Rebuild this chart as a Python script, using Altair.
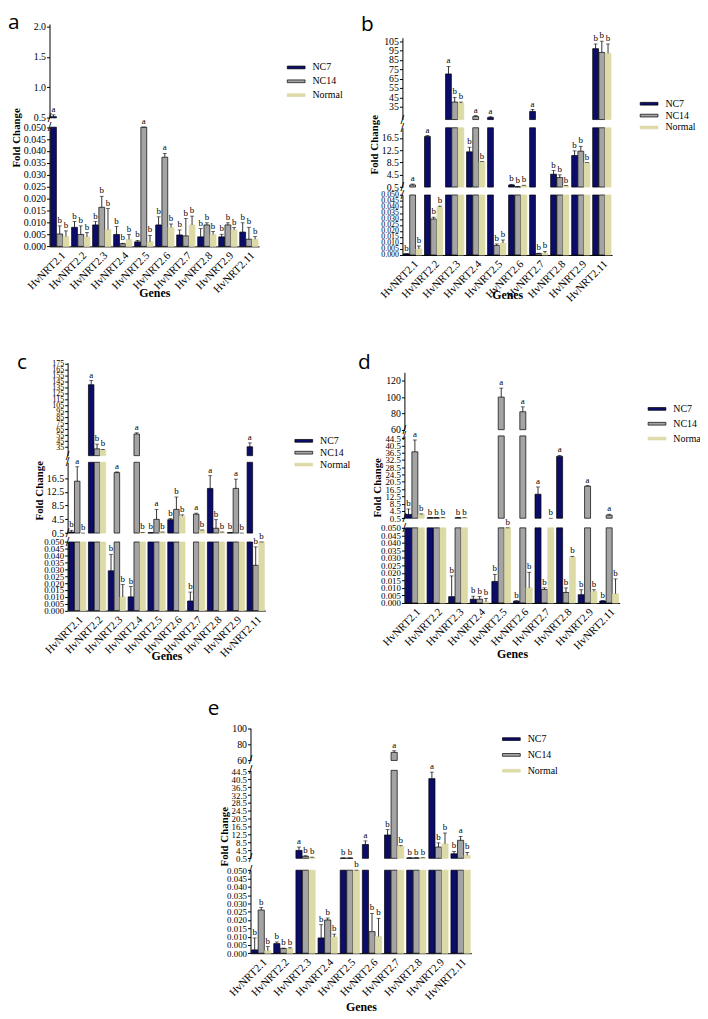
import altair as alt
import pandas as pd

GENES = ["HvNRT2.1", "HvNRT2.2", "HvNRT2.3", "HvNRT2.4", "HvNRT2.5",
         "HvNRT2.6", "HvNRT2.7", "HvNRT2.8", "HvNRT2.9", "HvNRT2.11"]
SERIES = ["NC7", "NC14", "Normal"]
FILL = ["#0c0c6a", "#a4a4a4", "#dcdaa6"]
STROKE = ["#000000", "#000000", "#dcdaa6"]
SERIF = "Liberation Serif"

# ---------------- panel a ----------------
a_nc7 = [0.52, 0.008, 0.009, 0.005, 0.0019, 0.009, 0.0048, 0.004, 0.004, 0.006]
a_nc7_err = [0.03, 0.0024, 0.0014, 0.0033, 0.0006, 0.0034, 0.0021, 0.0035, 0.0011, 0.0039]
a_nc14 = [0.0052, 0.005, 0.0164, 0.0011, 0.05, 0.0374, 0.0044, 0.009, 0.009, 0.003]
a_nc14_err = [0.0034, 0.0036, 0.0046, 0.0002, 0.0, 0.0016, 0.0073, 0.0009, 0.0009, 0.005]
a_nrm = [0.0041, 0.004, 0.007, 0.0029, 0.0019, 0.008, 0.009, 0.005, 0.0069, 0.003]
a_nrm_err = [0.0024, 0.0018, 0.0089, 0.0021, 0.0027, 0.0014, 0.0037, 0.0012, 0.001, 0.0011]
a_nc7_sig = ["a", "b", "b", "b", "b", "b", "b", "b", "b", "b"]
a_nc14_sig = ["b", "b", "b", "b", "a", "a", "b", "b", "b", "b"]
a_nrm_sig = ["b"] * 10

# ---------------- panel b ----------------
b_nc7 = [0.001, 17.0, 70, 12.0, 23.5, 1.2, 30, 4.7, 10.8, 97]
b_nc7_err = [0.0, 0.3, 8, 1.5, 0.8, 0.2, 2, 1.2, 1.5, 5]
b_nc14 = [1.2, 0.030, 40, 24.5, 0.008, 0.6, 0.0012, 3.6, 12.2, 93]
b_nc14_err = [0.3, 0.0015, 5, 1.0, 0.0012, 0.1, 0.0003, 0.9, 1.6, 12]
b_nrm = [0.005, 0.040, 39, 8.8, 0.010, 1.0, 0.0015, 0.9, 8.5, 92]
b_nrm_err = [0.0025, 0.0008, 1, 0.0, 0.0025, 0.1, 0.0015, 0.1, 0.0, 10]
b_nc7_sig = ["b", "a", "a", "b", "a", "b", "a", "b", "b", "b"]
b_nc14_sig = ["a", "b", "b", "a", "b", "b", "b", "b", "b", "b"]
b_nrm_sig = ["b"] * 10

# ---------------- panel c ----------------
c_nc7 = [0.8, 140, 0.029, 0.010, 0.6, 4.4, 0.007, 13.5, 0.6, 35.5]
c_nc7_err = [0.5, 7, 0.012, 0.0075, 0.1, 0.3, 0.0065, 3.7, 0.1, 6.5]
c_nc14 = [15.6, 32, 18.1, 57, 4.5, 7.4, 6.0, 1.9, 13.5, 0.033]
c_nc14_err = [4.2, 8, 0.2, 2, 2.9, 3.6, 0.3, 2.5, 2.7, 0.0134]
c_nrm = [0.5, 30, 0.010, 0.7, 0.8, 5.4, 1.4, 0.8, 0.5, 0.05]
c_nrm_err = [0.0, 1, 0.009, 0.0, 0.0, 0.4, 0.0, 0.0, 0.0, 0.0]
c_nc7_sig = ["b", "a", "b", "b", "b", "b", "b", "a", "b", "a"]
c_nc14_sig = ["a", "b", "a", "a", "a", "b", "a", "b", "a", "b"]
c_nrm_sig = ["b"] * 10

# ---------------- panel d ----------------
d_nc7 = [2.6, 0.8, 0.0042, 0.0025, 0.0143, 0.0012, 13.7, 34.5, 0.0055, 0.0013]
d_nc7_err = [3, 0.1, 0.0138, 0.002, 0.0047, 0.0003, 4, 0.5, 0.0033, 0.0003]
d_nc14 = [37, 0.8, 0.8, 0.0025, 100, 82, 0.009, 0.007, 18.1, 2.2]
d_nc14_err = [6.5, 0.1, 0.1, 0.0018, 11, 6, 0.0011, 0.003, 0.3, 0.5]
d_nrm = [2.6, 0.8, 0.8, 0.0008, 0.05, 0.0101, 0.5, 0.0305, 0.0077, 0.0061]
d_nrm_err = [0.3, 0.1, 0.1, 0.0022, 0.0, 0.0103, 0.0, 0.0005, 0.0011, 0.0099]
d_nc7_sig = ["b", "b", "b", "b", "b", "b", "a", "a", "b", "b"]
d_nc14_sig = ["a", "b", "b", "b", "a", "a", "b", "b", "a", "a"]
d_nrm_sig = ["b"] * 10

# ---------------- panel e ----------------
e_nc7 = [0.002, 0.0058, 4.5, 0.0092, 0.6, 7.5, 12.3, 0.7, 40.8, 2.8]
e_nc7_err = [0.0072, 0.001, 1.7, 0.008, 0.1, 1.8, 2.7, 0.1, 3.3, 1.2]
e_nc14 = [0.026, 0.0028, 1.5, 0.020, 0.6, 0.013, 70, 0.7, 6.2, 9.6]
e_nc14_err = [0.0015, 0.0003, 0.3, 0.0012, 0.1, 0.011, 2, 0.1, 2.1, 2]
e_nrm = [0.0015, 0.0028, 0.9, 0.0098, 0.05, 0.010, 6.6, 0.7, 7.8, 2.0]
e_nrm_err = [0.0025, 0.0005, 0.2, 0.0017, 0.0, 0.011, 0.3, 0.1, 5.5, 1.5]
e_nc7_sig = ["b", "b", "a", "b", "b", "a", "b", "b", "a", "b"]
e_nc14_sig = ["b", "b", "b", "b", "b", "b", "a", "b", "b", "a"]
e_nrm_sig = ["b"] * 10

# axis tick labels
TICKS_SMALL = [0.0, 0.005, 0.01, 0.015, 0.02, 0.025, 0.03, 0.035, 0.04, 0.045, 0.05]
TICKS_A_TOP = [0.5, 1.0, 1.5, 2.0]
TICKS_B_TOP = [35, 45, 55, 65, 75, 85, 95, 105]
TICKS_MID = [0.5, 4.5, 8.5, 12.5, 16.5]
TICKS_C_TOP = [35, 45, 55, 65, 75, 85, 95, 105, 115, 125, 135, 145, 155, 165, 175]
TICKS_D_TOP = [60, 80, 100, 120]
TICKS_MID_WIDE = [0.5, 4.5, 8.5, 12.5, 16.5, 20.5, 24.5, 28.5, 32.5, 36.5, 40.5, 44.5]
TICKS_E_TOP = [60, 80, 100]

W, H = 700, 1011   # whole drawing, pixel layout below is in this frame


def seg(lo, hi, ybot, ytop, ticks, fmt, fs):
    return dict(lo=lo, hi=hi, ybot=ybot, ytop=ytop, ticks=ticks, fmt=fmt, fs=fs)


def seg_index(v, asc):
    idx = 0
    for k, s in enumerate(asc):
        if v >= s["lo"]:
            idx = k
    if v > asc[idx]["hi"] and idx + 1 < len(asc):
        idx += 1
    return idx


def build_df(vals, errs, sigs, segs):
    asc = list(reversed(segs))
    n = len(segs)
    recs = []
    for s, vv, ee, ss in zip(SERIES, vals, errs, sigs):
        for g, v, e, t in zip(GENES, vv, ee, ss):
            ka = seg_index(v, asc)
            lo, hi = asc[ka]["lo"], asc[ka]["hi"]
            top = v + e
            lab = min(max(top, lo), hi)
            recs.append(dict(gene=g, series=s, value=v, top=top, lab=lab,
                             seg=n - 1 - ka, sig=t))
    return pd.DataFrame(recs)


ONE = pd.DataFrame({"z": [0]})


def panel(letter, vals, errs, sigs, segs, xr, leg, letter_xy, fold_y, genes_y):
    df = build_df(vals, errs, sigs, segs)
    n = len(segs)
    out = []
    for k, sg in enumerate(segs):
        last = k == n - 1
        if last:
            xaxis = alt.Axis(orient="bottom", offset=sg["ybot"] - H, labelAngle=-45,
                             title="Genes", labelFont=SERIF, labelFontSize=11, ticks=False,
                             labelPadding=3, titleFont=SERIF, titleFontSize=12,
                             titleFontWeight="bold", titleBaseline="middle", titleY=genes_y,
                             domainColor="black", labelColor="black", titleColor="black")
        else:
            xaxis = None
        xenc = alt.X("gene:N", sort=GENES, axis=xaxis,
                     scale=alt.Scale(domain=GENES, range=list(xr),
                                     paddingInner=0.13, paddingOuter=0.05))
        xoff = alt.XOffset("series:N", sort=SERIES,
                           scale=alt.Scale(domain=SERIES, paddingInner=0.06))
        sc = alt.Scale(domain=[sg["lo"], sg["hi"]], range=[sg["ybot"], sg["ytop"]],
                       nice=False, zero=False, clamp=True)
        akw = dict(orient="left", offset=-xr[0], values=sg["ticks"], format=sg["fmt"],
                   labelFontSize=sg["fs"], labelOverlap=False, labelFlush=False,
                   labelBound=False, labelFont=SERIF, tickSize=3, labelPadding=1,
                   domainColor="black", tickColor="black", labelColor="black", grid=False)
        if k == 1:
            akw.update(title="Fold Change", titleY=fold_y, titleFont=SERIF,
                       titleFontSize=11, titleFontWeight="bold", titlePadding=2,
                       titleColor="black")
        else:
            akw.update(title=None)
        yaxis = alt.Axis(**akw)
        if k == 0:
            legend = alt.Legend(orient="none", legendX=leg[0], legendY=leg[1],
                                title=None,
                                symbolType="M-1.8,-0.28L1.8,-0.28L1.8,0.28L-1.8,0.28Z",
                                symbolSize=100, labelFont=SERIF, labelFontSize=10,
                                labelColor="black", rowPadding=leg[2], padding=0,
                                labelOffset=11, symbolStrokeColor="black",
                                symbolStrokeWidth=0.7)
        else:
            legend = None
        base = alt.Chart(df)
        bars = base.transform_filter(alt.datum.value > sg["lo"]).mark_bar(
            strokeWidth=0.7).encode(
            x=xenc, xOffset=xoff,
            y=alt.Y("value:Q", scale=sc, axis=yaxis),
            y2=alt.datum(0),
            fill=alt.Fill("series:N", sort=SERIES,
                          scale=alt.Scale(domain=SERIES, range=FILL), legend=legend),
            stroke=alt.Stroke("series:N", sort=SERIES,
                              scale=alt.Scale(domain=SERIES, range=STROKE), legend=None),
        )
        segdata = base.transform_filter(alt.datum.seg == k)
        rules = segdata.mark_rule(color="black", strokeWidth=0.8).encode(
            x=xenc, xOffset=xoff,
            y=alt.Y("value:Q", scale=sc, axis=yaxis), y2="top:Q")
        caps = segdata.mark_tick(orient="horizontal", size=4,
                                 thickness=0.8, color="black").encode(
            x=xenc, xOffset=xoff, y=alt.Y("top:Q", scale=sc, axis=yaxis))
        letters = segdata.mark_text(baseline="bottom", dy=-1, fontSize=9,
                                    font=SERIF, fill="black").encode(
            x=xenc, xOffset=xoff, y=alt.Y("lab:Q", scale=sc, axis=yaxis),
            text="sig:N")
        layers = [bars, rules, caps, letters]
        if k < n - 1:
            layers.append(alt.Chart(ONE).mark_text(text="/", fontSize=11, font="DejaVu Sans",
                                                   fill="black", baseline="middle").encode(
                x=alt.value(xr[0]), y=alt.YDatum(datum=sg["lo"], type="quantitative",
                                                 scale=sc, axis=yaxis)))
        if k > 0:
            layers.append(alt.Chart(ONE).mark_text(text="/", fontSize=11, font="DejaVu Sans",
                                                   fill="black", baseline="middle").encode(
                x=alt.value(xr[0]), y=alt.YDatum(datum=sg["hi"], type="quantitative",
                                                 scale=sc, axis=yaxis)))
        out.append(alt.layer(*layers))
    out.append(alt.Chart(ONE).mark_text(text=letter, font="Open Sans", fontSize=21,
                                        align="left", baseline="alphabetic",
                                        fill="black").encode(
        x=alt.value(letter_xy[0]), y=alt.value(letter_xy[1])))
    return out


# segment layouts: (lo, hi, bottom px, top px) in the drawing frame
segs_a = [seg(0.5, 2.04, 105.3, 10.3, TICKS_A_TOP, ".1f", 10),
          seg(0, 0.05, 235.3, 114.7, TICKS_SMALL, ".3f", 10)]
segs_b = [seg(21.3, 108.6, 107, 24.3, TICKS_B_TOP, "d", 10),
          seg(0.5, 19.85, 175.3, 115.3, TICKS_MID, ".1f", 10),
          seg(0, 0.05, 244, 183.3, TICKS_SMALL, ".3f", 8)]
segs_c = [seg(20.5, 177, 447, 353, TICKS_C_TOP, "d", 8),
          seg(0.5, 21.1, 525.3, 453.7, TICKS_MID, ".1f", 10),
          seg(0, 0.05, 603.7, 534.3, TICKS_SMALL, ".3f", 9)]
segs_d = [seg(60, 130.4, 420.7, 362.7, TICKS_D_TOP, "d", 10),
          seg(0.5, 45.75, 510.3, 427, TICKS_MID_WIDE, ".1f", 9),
          seg(0, 0.05, 596, 520, TICKS_SMALL, ".3f", 9)]
segs_e = [seg(60, 100, 755.3, 722.7, TICKS_E_TOP, "d", 10),
          seg(0.5, 45, 854.3, 765.3, TICKS_MID_WIDE, ".1f", 9),
          seg(0, 0.05, 950.3, 866.3, TICKS_SMALL, ".3f", 9)]

layers = []
layers += panel("a", [a_nc7, a_nc14, a_nrm], [a_nc7_err, a_nc14_err, a_nrm_err],
                [a_nc7_sig, a_nc14_sig, a_nrm_sig], segs_a, (42, 254),
                (286, 48.8, 3), (0, 15), 125, 46.7)
layers += panel("b", [b_nc7, b_nc14, b_nrm], [b_nc7_err, b_nc14_err, b_nrm_err],
                [b_nc7_sig, b_nc14_sig, b_nrm_sig], segs_b, (399, 611),
                (643, 85.5, 1), (357, 17), 132, 40)
layers += panel("c", [c_nc7, c_nc14, c_nrm], [c_nc7_err, c_nc14_err, c_nrm_err],
                [c_nc7_sig, c_nc14_sig, c_nrm_sig], segs_c, (60.3, 260.3),
                (293.7, 426.5, 1), (9, 359), 482, 45.3)
layers += panel("d", [d_nc7, d_nc14, d_nrm], [d_nc7_err, d_nc14_err, d_nrm_err],
                [d_nc7_sig, d_nc14_sig, d_nrm_sig], segs_d, (401, 618.7),
                (651, 394.2, 4), (354, 359), 479, 51)
layers += panel("e", [e_nc7, e_nc14, e_nrm], [e_nc7_err, e_nc14_err, e_nrm_err],
                [e_nc7_sig, e_nc14_sig, e_nrm_sig], segs_e, (245.3, 468.7),
                (503.7, 728.2, 5), (202, 709), 832, 54)

chart = alt.layer(*layers).resolve_scale(
    x="independent", y="independent", xOffset="independent",
    fill="independent", stroke="independent"
).properties(
    width=W, height=H, autosize=alt.AutoSizeParams(type="none"), padding=0
).configure_view(stroke=None)

chart.save("out.html", embed_options={"renderer": "svg", "actions": False})
